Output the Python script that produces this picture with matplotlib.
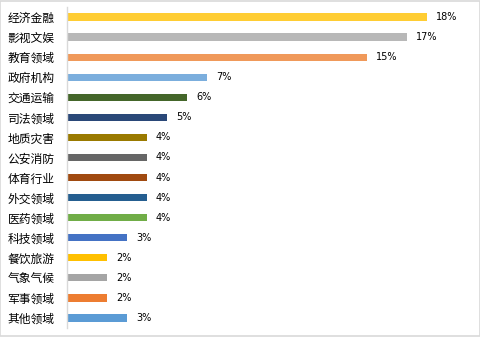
import matplotlib
matplotlib.use("Agg")
import matplotlib.pyplot as plt
from matplotlib.patches import Rectangle

plt.rcParams['font.family'] = ['Noto Sans CJK SC', 'DejaVu Sans']

categories = ["经济金融", "影视文娱", "教育领域", "政府机构", "交通运输", "司法领域",
              "地质灾害", "公安消防", "体育行业", "外交领域", "医药领域", "科技领域",
              "餐饮旅游", "气象气候", "军事领域", "其他领域"]
values = [18, 17, 15, 7, 6, 5, 4, 4, 4, 4, 4, 3, 2, 2, 2, 3]
colors = ["#FFCD33", "#B8B8B8", "#F0995A", "#7BAEDD", "#44662A", "#2A4878",
          "#9A7A00", "#666666", "#A04A10", "#255E90", "#70AD47", "#4472C4",
          "#FFC000", "#A5A5A5", "#ED7D31", "#5B9BD5"]

W, H = 481, 337
fig = plt.figure(figsize=(W / 100, H / 100), dpi=100)
ax = fig.add_axes([67 / W, (H - 328) / H, 400 / W, 321 / H])

y = list(range(len(categories)))
ax.barh(y, values, height=0.36, color=colors)
ax.set_ylim(len(categories) - 0.5, -0.5)
ax.set_xlim(0, 20)

for yi, v in zip(y, values):
    ax.text(v + 0.45, yi, f"{v}%", va="center", ha="left", fontsize=7,
            family=["DejaVu Sans"], color="#000000")

ax.set_yticks(y)
ax.set_yticklabels(categories, fontsize=8.5)
ax.tick_params(axis="y", length=0, pad=9)
ax.set_xticks([])
for s in ["top", "right", "bottom"]:
    ax.spines[s].set_visible(False)
ax.spines["left"].set_color("#D9D9D9")
ax.spines["left"].set_linewidth(1)

fig.patches.append(Rectangle((0.001, 0.002), 0.996, 0.995, transform=fig.transFigure,
                             fill=False, edgecolor="#D9D9D9", linewidth=1.2))

fig.savefig("out.png", dpi=100)
